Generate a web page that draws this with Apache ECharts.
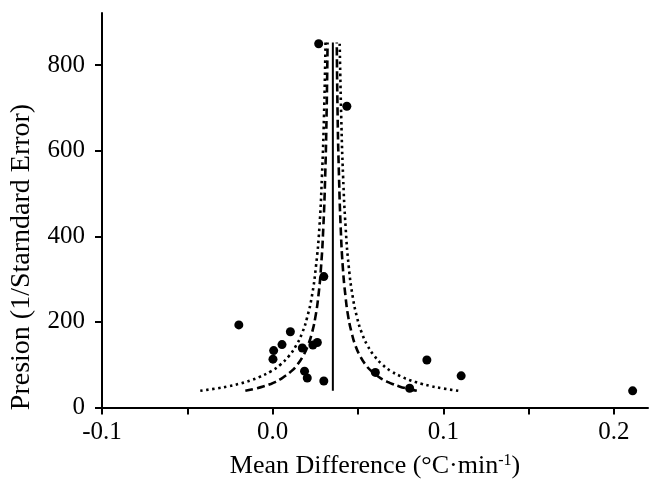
<!DOCTYPE html>
<html>
<head>
<meta charset="utf-8">
<script src="https://cdn.jsdelivr.net/npm/echarts@6/dist/echarts.min.js"></script>
<style>html,body{margin:0;padding:0;background:#fff;}#c{width:649px;height:487px;}</style>
</head>
<body>
<div id="c"></div>
<script>
// Study points: [mean difference, precision]
const studyMD = [0.027, 0.0435, -0.0198, 0.0104, 0.0055, 0.0006, 0.0002, 0.0174, 0.0236, 0.0262, 0.0187, 0.0203, 0.030, 0.030, 0.0602, 0.0904, 0.1105, 0.0803, 0.211];
const studyPrec = [850, 704, 193, 177, 147, 133, 113, 139, 146, 152, 85, 69, 62, 306, 82, 111, 74, 45, 39];

// Funnel curve precision levels
const curvePrec = [39, 45, 50, 55, 60, 65, 70, 85, 100, 120, 145, 175, 210, 260, 330, 420, 540, 680, 853];
const dashLeftX  = [-0.0160, -0.0091, -0.0047, -0.0011, 0.0018, 0.0041, 0.0061, 0.0110, 0.0145, 0.0178, 0.0207, 0.0231, 0.0250, 0.0268, 0.0284, 0.0297, 0.0308, 0.0316, 0.0322];
const dashRightX = [0.0845, 0.0780, 0.0737, 0.0702, 0.0673, 0.0648, 0.0627, 0.0579, 0.0545, 0.0513, 0.0485, 0.0463, 0.0444, 0.0427, 0.0411, 0.0399, 0.0389, 0.0381, 0.0376];
const dotLeftX   = [-0.0424, -0.0322, -0.0255, -0.0200, -0.0155, -0.0117, -0.0084, -0.0008, 0.0045, 0.0095, 0.0138, 0.0174, 0.0202, 0.0230, 0.0254, 0.0274, 0.0289, 0.0301, 0.0310];
const dotRightX  = [0.1088, 0.0991, 0.0928, 0.0876, 0.0833, 0.0797, 0.0766, 0.0694, 0.0644, 0.0597, 0.0556, 0.0522, 0.0495, 0.0469, 0.0446, 0.0428, 0.0413, 0.0402, 0.0393];
const pooledMD = 0.0353;
const pooledRange = [39, 853];

const xTicks = [-0.1, -0.05, 0, 0.05, 0.1, 0.15, 0.2];
const xLabels = [-0.1, 0, 0.1, 0.2];
const yTicks = [0, 200, 400, 600, 800];

const pair = (xs, ys) => xs.map((x, i) => [x, ys[i]]);
const font = 'Liberation Serif';
const black = '#000';

const chart = echarts.init(document.getElementById('c'), null, {renderer: 'canvas'});
chart.setOption({
  animation: false,
  backgroundColor: '#fff',
  grid: {left: 102, right: 1, top: 13, bottom: 79.5, containLabel: false},
  xAxis: {
    type: 'value', min: -0.1, max: 0.22,
    axisLine: {show: true, onZero: false, lineStyle: {color: black, width: 2}},
    axisTick: {show: true, inside: false, length: 7, lineStyle: {color: black, width: 2}, customValues: xTicks},
    axisLabel: {show: true, color: black, fontFamily: font, fontSize: 25, margin: 12,
      customValues: xLabels, formatter: v => v.toFixed(1)},
    splitLine: {show: false}
  },
  yAxis: {
    type: 'value', min: 0, max: 922,
    axisLine: {show: true, onZero: false, lineStyle: {color: black, width: 2}},
    axisTick: {show: true, inside: false, length: 7, lineStyle: {color: black, width: 2}, customValues: yTicks},
    axisLabel: {show: true, color: black, fontFamily: font, fontSize: 25, margin: 17, customValues: yTicks},
    splitLine: {show: false}
  },
  graphic: [
    {type: 'text', x: 22, y: 257, rotation: Math.PI / 2,
      style: {text: 'Presion (1/Starndard Error)', font: '28px "Liberation Serif"', fill: black, align: 'center', verticalAlign: 'middle'}},
    {type: 'text', x: 375, y: 466,
      style: {text: '{a|Mean Difference (°C·min}{s|-1}{a|)}', align: 'center', verticalAlign: 'middle', fill: black,
        rich: {a: {fontFamily: font, fontSize: 26, color: black}, s: {fontFamily: font, fontSize: 16, color: black, verticalAlign: 'top', padding: [0, 0, 8, 0]}}}}
  ],
  series: [
    {type: 'line', data: pair(dotLeftX, curvePrec), symbol: 'none', smooth: true, lineStyle: {color: black, width: 2.6, type: [2.5, 3.5]}},
    {type: 'line', data: pair(dotRightX, curvePrec), symbol: 'none', smooth: true, lineStyle: {color: black, width: 2.6, type: [2.5, 3.5]}},
    {type: 'line', data: pair(dashLeftX, curvePrec), symbol: 'none', smooth: true, lineStyle: {color: black, width: 2.6, type: [8, 4]}},
    {type: 'line', data: pair(dashRightX, curvePrec), symbol: 'none', smooth: true, lineStyle: {color: black, width: 2.6, type: [8, 4]}},
    {type: 'line', data: pooledRange.map(p => [pooledMD, p]), symbol: 'none', lineStyle: {color: black, width: 2}},
    {type: 'scatter', data: pair(studyMD, studyPrec), symbol: 'circle', symbolSize: 9, itemStyle: {color: black, opacity: 1}, z: 5}
  ]
});
</script>
</body>
</html>
